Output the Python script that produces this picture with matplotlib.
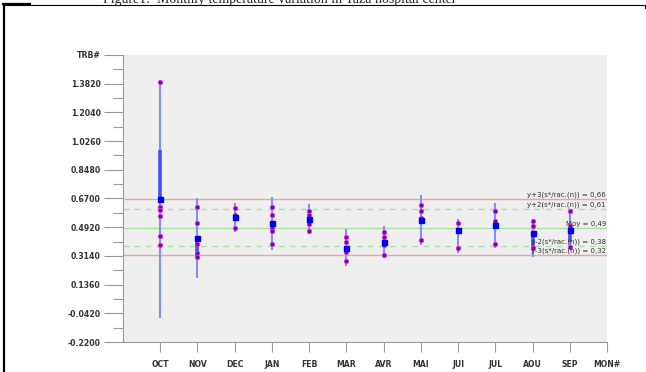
import matplotlib.pyplot as plt
from matplotlib.lines import Line2D
import numpy as np

months = ['OCT', 'NOV', 'DEC', 'JAN', 'FEB', 'MAR', 'AVR', 'MAI', 'JUI', 'JUL', 'AOU', 'SEP']

# individual readings per month
readings = [
    [1.39, 0.62, 0.60, 0.56, 0.44, 0.38],
    [0.62, 0.52, 0.39, 0.33, 0.31],
    [0.61, 0.57, 0.49],
    [0.62, 0.57, 0.49, 0.47, 0.39],
    [0.59, 0.57, 0.51, 0.47],
    [0.43, 0.40, 0.34, 0.28],
    [0.46, 0.43, 0.38, 0.32],
    [0.63, 0.59, 0.55, 0.41],
    [0.52, 0.36],
    [0.59, 0.53, 0.39],
    [0.53, 0.50, 0.36],
    [0.59, 0.50, 0.37],
]
means = [0.666, 0.424, 0.554, 0.517, 0.542, 0.362, 0.400, 0.535, 0.473, 0.504, 0.455, 0.473]
range_lo = [-0.07, 0.18, 0.46, 0.35, 0.45, 0.25, 0.30, 0.38, 0.33, 0.36, 0.31, 0.37]
range_hi = [1.39, 0.67, 0.64, 0.68, 0.635, 0.48, 0.50, 0.69, 0.54, 0.64, 0.54, 0.585]
thick_lo = [0.666, 0.31, 0.54, 0.50, 0.53, 0.35, 0.39, 0.52, 0.46, 0.49, 0.36, 0.40]
thick_hi = [0.97, 0.424, 0.57, 0.53, 0.55, 0.37, 0.41, 0.55, 0.48, 0.51, 0.455, 0.49]

limit_values = [0.665, 0.605, 0.49, 0.375, 0.32]
limit_labels = ['y+3(s*/rac.(n)) = 0,66', 'y+2(s*/rac.(n)) = 0,61', 'Moy = 0,49',
                'y-2(s*/rac.(n)) = 0,38', 'y-3(s*/rac.(n)) = 0,32']
limit_styles = [('#f2a0a0', '-'), ('#a8e0a0', (0, (4, 4))), ('#a8e0a0', '-'),
                ('#a8e0a0', (0, (4, 4))), ('#f2a0a0', '-')]

y_ticks = [-0.22 + 0.178 * k for k in range(11)]
y_labels = ['%.4f' % v for v in y_ticks[:-1]] + ['TRB#']
x_labels = months + ['MON#']

fig = plt.figure(figsize=(6.46, 3.72), dpi=100)
ax = fig.add_axes([123 / 646, 1 - 342 / 372, (607 - 123) / 646, (342 - 55) / 372])
ax.set_facecolor('#efefef')

for val, (col, ls) in zip(limit_values, limit_styles):
    ax.axhline(val, color=col, lw=1.0, ls=ls, zorder=1)
for val, lab in zip(limit_values, limit_labels):
    ax.text(12.97, val + 0.006, lab, ha='right', va='bottom', fontsize=5,
            color='#333333', zorder=5)

x = np.arange(1, len(months) + 1)
ax.vlines(x, range_lo, range_hi, color='#8a8aff', lw=1.5, zorder=2)
ax.vlines(x, thick_lo, thick_hi, color='#4a4aff', lw=2.6, zorder=2)
for xi, vals in zip(x, readings):
    ax.plot([xi] * len(vals), vals, 'o', color='#7a00b0', ms=3.2,
            markeredgecolor='#d040e0', markeredgewidth=0.6, zorder=3)
ax.plot(x, means, 's', color='#0000ee', ms=3.6, zorder=4)

ax.set_xlim(0, 13)
ax.set_ylim(-0.22, 1.56)
ax.set_xticks(np.arange(1, 14))
ax.set_xticklabels(x_labels)
ax.set_yticks(y_ticks)
ax.set_yticklabels(y_labels)
ax.set_yticks([v + 0.089 for v in y_ticks[:-1]], minor=True)

for side in ['top', 'right']:
    ax.spines[side].set_visible(False)
for side in ['left', 'bottom']:
    ax.spines[side].set_color('#999999')
    ax.spines[side].set_linewidth(0.8)
ax.tick_params(axis='y', which='major', length=14, width=0.8, color='#999999',
               labelsize=5.6, labelcolor='#333333', pad=2)
ax.tick_params(axis='y', which='minor', length=7, width=0.8, color='#999999')
ax.tick_params(axis='x', length=7, width=0.8, color='#999999',
               labelsize=5.6, labelcolor='#333333', pad=6)
for lab in ax.get_xticklabels() + ax.get_yticklabels():
    lab.set_fontweight('bold')

# page frame around the figure
fig.add_artist(Line2D([3.5 / 646, 3.5 / 646], [0, 1 - 4 / 372], color='black', lw=1.6))
fig.add_artist(Line2D([3 / 646, 645 / 646], [1 - 5 / 372, 1 - 5 / 372], color='black', lw=0.8))
fig.add_artist(Line2D([3 / 646, 30 / 646], [1 - 4 / 372, 1 - 4 / 372], color='black', lw=1.6))
fig.add_artist(Line2D([644.5 / 646, 644.5 / 646], [1 - 5 / 372, 1 - 8 / 372], color='black', lw=0.8))
fig.text(280 / 646, 1 - 3.5 / 372, 'Figure1:  Monthly temperature variation in Taza hospital center',
         ha='center', va='baseline', fontsize=10, family='Liberation Serif', color='#222222')

fig.savefig('out.png', dpi=100)
